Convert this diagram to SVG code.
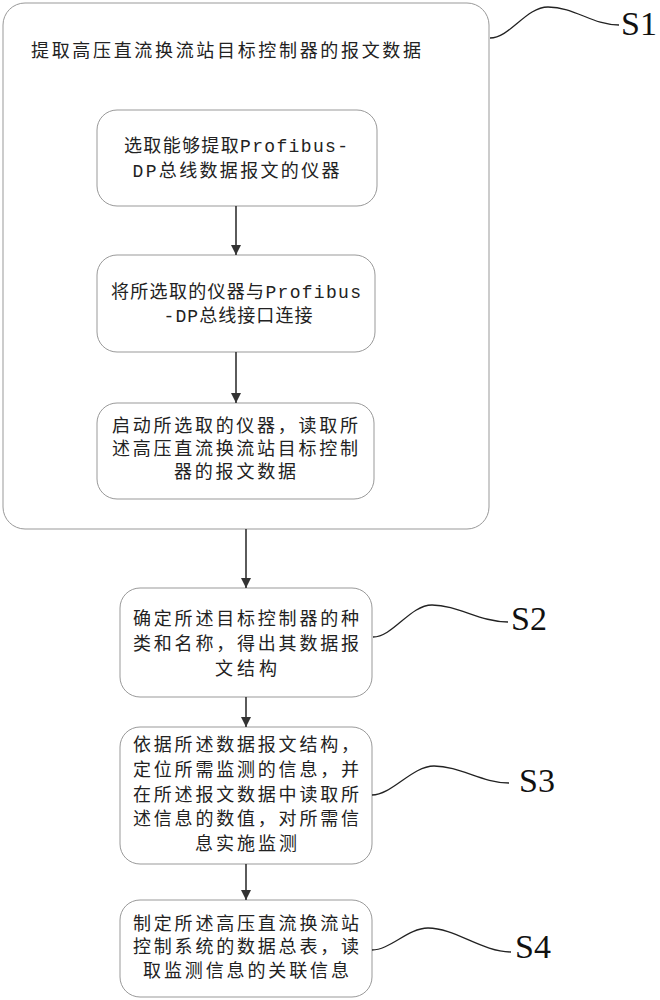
<svg xmlns="http://www.w3.org/2000/svg" width="660" height="1000" viewBox="0 0 660 1000">
<style>
.box{fill:#fff;stroke:#999;stroke-width:1}
.t{font-family:"Liberation Mono","Noto Sans CJK SC",monospace;font-size:18px;fill:#222;dominant-baseline:central;text-anchor:middle}
.tl{font-family:"Liberation Mono","Noto Sans CJK SC",monospace;font-size:18px;fill:#222;dominant-baseline:central}
.lbl{font-family:"Liberation Serif",serif;font-size:34px;fill:#111}
.lead{fill:none;stroke:#222;stroke-width:1.3}
.arr{stroke:#333;stroke-width:1.6;fill:none;marker-end:url(#ah)}
</style>
<defs>
<marker id="ah" viewBox="0 0 10 12" refX="10" refY="6" markerWidth="10" markerHeight="12" markerUnits="userSpaceOnUse" orient="auto">
<path d="M0,1 L10,6 L0,11 Z" fill="#333"/>
</marker>
</defs>
<rect width="660" height="1000" fill="#fff"/>
<g id="S1">
<rect class="box" x="3" y="3" width="486" height="526" rx="22"/>
<text class="tl" x="31" y="52" textLength="390" lengthAdjust="spacing">提取高压直流换流站目标控制器的报文数据</text>
</g>
<g id="S1a">
<rect class="box" x="97" y="110" width="280" height="96" rx="20"/>
<text class="t" x="236" y="147" textLength="224" lengthAdjust="spacing">选取能够提取Profibus-</text>
<text class="t" x="236" y="172" textLength="207" lengthAdjust="spacing">DP总线数据报文的仪器</text>
</g>
<g id="S1b">
<rect class="box" x="97" y="255" width="278" height="97" rx="20"/>
<text class="t" x="236" y="293" textLength="250" lengthAdjust="spacing">将所选取的仪器与Profibus</text>
<text class="t" x="238" y="317" textLength="149" lengthAdjust="spacing">-DP总线接口连接</text>
</g>
<g id="S1c">
<rect class="box" x="97" y="403" width="277" height="96" rx="20"/>
<text class="t" x="235" y="427" textLength="246" lengthAdjust="spacing">启动所选取的仪器，读取所</text>
<text class="t" x="235" y="450" textLength="246" lengthAdjust="spacing">述高压直流换流站目标控制</text>
<text class="t" x="235" y="473" textLength="122" lengthAdjust="spacing">器的报文数据</text>
</g>
<g id="S2">
<rect class="box" x="120" y="588" width="252" height="109" rx="20"/>
<text class="t" x="246" y="620" textLength="226" lengthAdjust="spacing">确定所述目标控制器的种</text>
<text class="t" x="246" y="645" textLength="226" lengthAdjust="spacing">类和名称，得出其数据报</text>
<text class="t" x="246" y="670" textLength="62" lengthAdjust="spacing">文结构</text>
</g>
<g id="S3">
<rect class="box" x="120" y="727" width="252" height="137" rx="20"/>
<text class="t" x="246" y="746" textLength="226" lengthAdjust="spacing">依据所述数据报文结构，</text>
<text class="t" x="246" y="771" textLength="226" lengthAdjust="spacing">定位所需监测的信息，并</text>
<text class="t" x="246" y="796" textLength="226" lengthAdjust="spacing">在所述报文数据中读取所</text>
<text class="t" x="246" y="820" textLength="226" lengthAdjust="spacing">述信息的数值，对所需信</text>
<text class="t" x="246" y="845" textLength="102" lengthAdjust="spacing">息实施监测</text>
</g>
<g id="S4">
<rect class="box" x="120" y="900" width="252" height="97" rx="20"/>
<text class="t" x="246" y="925" textLength="226" lengthAdjust="spacing">制定所述高压直流换流站</text>
<text class="t" x="246" y="948" textLength="226" lengthAdjust="spacing">控制系统的数据总表，读</text>
<text class="t" x="246" y="972" textLength="206" lengthAdjust="spacing">取监测信息的关联信息</text>
</g>
<g id="labels">
<path class="lead" d="M490,38 C510,38 526,7 548,7 C575,7 592,25 619,25"/>
<text class="lbl" x="621" y="35">S1</text>
<path class="lead" d="M373,637 C393,637 410,605 432,605 C458,605 480,622 508,622"/>
<text class="lbl" x="511" y="630">S2</text>
<path class="lead" d="M372,795 C392,795 412,766 434,766 C460,766 482,783 509,783"/>
<text class="lbl" x="519" y="792">S3</text>
<path class="lead" d="M372,950 C390,950 408,928 428,928 C455,928 482,952 511,952"/>
<text class="lbl" x="515" y="958">S4</text>
</g>
<g id="connectors">
<line class="arr" x1="236" y1="206" x2="236" y2="255"/>
<line class="arr" x1="236" y1="352" x2="236" y2="403"/>
<line class="arr" x1="246" y1="529" x2="246" y2="588"/>
<line class="arr" x1="246" y1="697" x2="246" y2="727"/>
<line class="arr" x1="246" y1="864" x2="246" y2="900"/>
</g>
</svg>
